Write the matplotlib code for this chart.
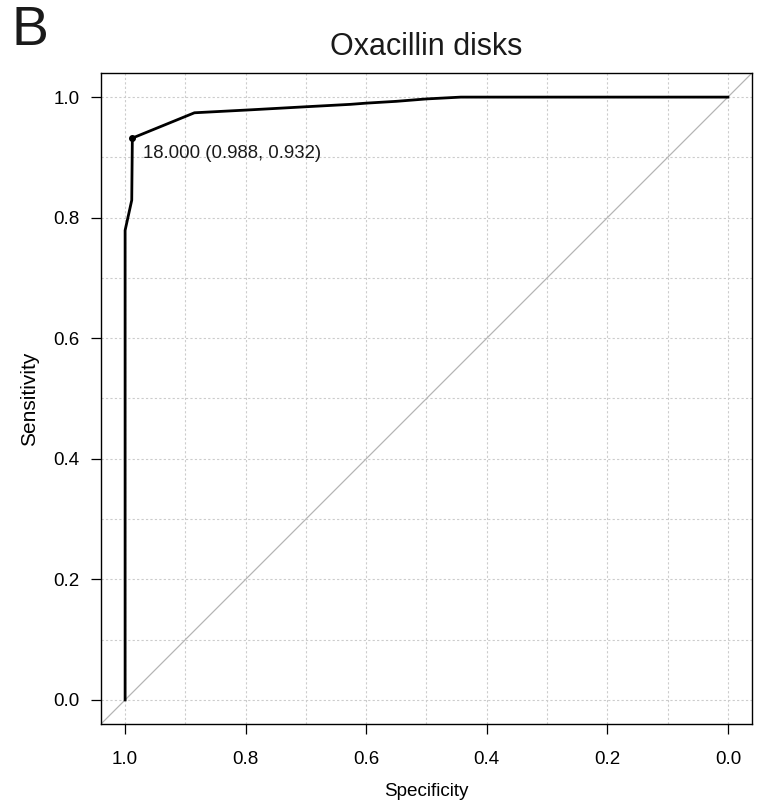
import matplotlib
matplotlib.use("Agg")
import matplotlib.pyplot as plt
import numpy as np

plt.rcParams['font.family'] = ['Liberation Sans', 'DejaVu Sans']

# ROC curve points
specificity = [1.0, 1.0, 0.989, 0.988, 0.885, 0.79, 0.70, 0.626, 0.60, 0.55, 0.50, 0.443, 0.0]
sensitivity = [0.0, 0.779, 0.829, 0.932, 0.974, 0.979, 0.984, 0.988, 0.990, 0.993, 0.997, 1.0, 1.0]

best_thr = 18.000
best_spec = 0.988
best_sens = 0.932

ticks = [0.0, 0.2, 0.4, 0.6, 0.8, 1.0]
grid_pos = np.round(np.arange(0, 11) / 10.0, 1)

fig = plt.figure(figsize=(7.65, 8.11), dpi=100)
ax = fig.add_axes([101/765, 1 - 724/811, 651/765, 651/811])

# grid every 0.1
for g in grid_pos:
    ax.axvline(g, color='#cccccc', linestyle=(0, (2, 2)), linewidth=0.8, zorder=0)
    ax.axhline(g, color='#cccccc', linestyle=(0, (2, 2)), linewidth=0.8, zorder=0)

# chance diagonal
ax.plot([1.04, -0.04], [-0.04, 1.04], color='#b5b5b5', linewidth=0.9, zorder=1)

ax.plot(specificity, sensitivity, color='black', linewidth=2.0, zorder=3)
ax.plot([best_spec], [best_sens], 'o', color='black', markersize=4, zorder=4)
ax.annotate("%.3f (%.3f, %.3f)" % (best_thr, best_spec, best_sens),
            xy=(best_spec, best_sens), xytext=(8, -5), textcoords='offset points',
            ha='left', va='top', fontsize=13.4, color='#1a1a1a')

ax.set_xlim(1.04, -0.04)
ax.set_ylim(-0.04, 1.04)
ax.set_xticks(ticks)
ax.set_yticks(ticks)
ax.set_xticklabels(["%.1f" % t for t in ticks])
ax.set_yticklabels(["%.1f" % t for t in ticks])
ax.tick_params(direction='out', length=7.5, width=0.9, labelsize=13.5)
ax.tick_params(axis='x', pad=12)
ax.tick_params(axis='y', pad=8)
for s in ax.spines.values():
    s.set_linewidth(1.0)

ax.set_xlabel("Specificity", fontsize=13.6, labelpad=11)
ax.set_ylabel("Sensitivity", fontsize=15, labelpad=10)
ax.set_title("Oxacillin disks", fontsize=22, pad=13, color='#1a1a1a')

fig.text(12/765, 1 - 45/811, "B", fontsize=40, ha='left', va='baseline', color='#1a1a1a')

fig.savefig("out.png", dpi=100)
